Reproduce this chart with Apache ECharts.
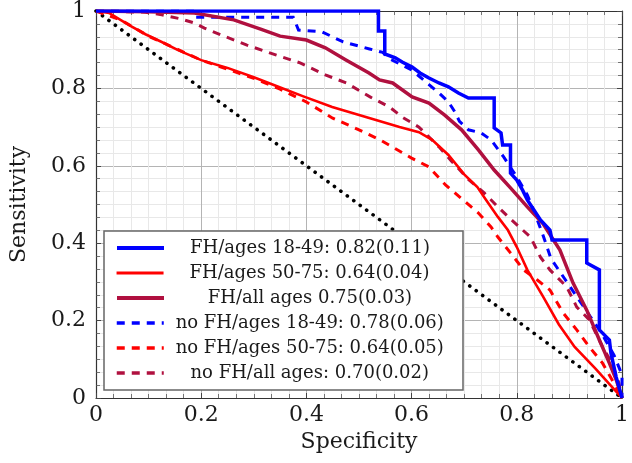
<!DOCTYPE html>
<html>
<head>
<meta charset="utf-8">
<script src="https://cdn.jsdelivr.net/npm/echarts@6/dist/echarts.min.js"></script>
<style>
html,body{margin:0;padding:0;background:#fff;}
#chart{width:632px;height:463px;}
</style>
</head>
<body>
<div id="chart"></div>
<script>
// ---- data (specificity, sensitivity) ----
const xTicks = [0, 0.2, 0.4, 0.6, 0.8, 1];
const yTicks = [0, 0.2, 0.4, 0.6, 0.8, 1];

const seriesNames = [
  'FH/ages 18-49: 0.82(0.11)',
  'FH/ages 50-75: 0.64(0.04)',
  'FH/all ages 0.75(0.03)',
  'no FH/ages 18-49: 0.78(0.06)',
  'no FH/ages 50-75: 0.64(0.05)',
  'no FH/all ages: 0.70(0.02)'
];

const fhYoung = [
  [0,1],[0.537,1],[0.537,0.948],[0.549,0.948],[0.549,0.889],[0.569,0.879],[0.582,0.868],
  [0.601,0.855],[0.616,0.840],[0.633,0.827],[0.652,0.814],[0.670,0.804],[0.689,0.788],
  [0.708,0.775],[0.757,0.775],[0.757,0.698],[0.770,0.685],[0.773,0.654],[0.788,0.654],
  [0.788,0.581],[0.800,0.563],[0.811,0.537],[0.820,0.512],[0.830,0.491],[0.845,0.460],
  [0.863,0.434],[0.867,0.408],[0.933,0.408],[0.933,0.349],[0.957,0.331],[0.957,0.176],
  [0.976,0.150],[0.979,0.116],[0.989,0.054],[1,0]
];

const fhOld = [
  [0,1],[0.025,0.995],[0.062,0.964],[0.094,0.940],[0.125,0.920],[0.156,0.899],[0.200,0.873],
  [0.250,0.853],[0.300,0.829],[0.343,0.806],[0.393,0.780],[0.449,0.752],[0.513,0.726],
  [0.577,0.700],[0.614,0.687],[0.639,0.667],[0.670,0.628],[0.700,0.578],[0.725,0.545],
  [0.740,0.515],[0.764,0.468],[0.783,0.434],[0.800,0.390],[0.820,0.331],[0.850,0.262],
  [0.880,0.190],[0.910,0.132],[0.950,0.075],[0.980,0.030],[1,0]
];

const fhAll = [
  [0,1],[0.100,0.998],[0.187,0.995],[0.262,0.977],[0.313,0.953],[0.350,0.935],[0.400,0.925],
  [0.436,0.905],[0.476,0.873],[0.519,0.840],[0.539,0.822],[0.564,0.814],[0.601,0.778],
  [0.633,0.762],[0.663,0.731],[0.695,0.693],[0.727,0.641],[0.757,0.589],[0.788,0.543],
  [0.820,0.494],[0.850,0.450],[0.882,0.382],[0.907,0.297],[0.933,0.227],[0.957,0.150],
  [0.976,0.090],[0.989,0.047],[1,0]
];

const noFhYoung = [
  [0,1],[0.187,1],[0.190,0.984],[0.375,0.984],[0.385,0.951],[0.430,0.946],[0.470,0.920],
  [0.520,0.902],[0.545,0.893],[0.560,0.875],[0.600,0.848],[0.633,0.810],[0.652,0.788],
  [0.670,0.765],[0.682,0.740],[0.691,0.715],[0.708,0.693],[0.732,0.685],[0.751,0.667],
  [0.775,0.623],[0.800,0.571],[0.820,0.525],[0.835,0.475],[0.850,0.420],[0.865,0.360],
  [0.890,0.310],[0.915,0.260],[0.940,0.210],[0.960,0.170],[0.985,0.110],[1,0.060],[1,0]
];

const noFhOld = [
  [0,1],[0.050,0.975],[0.100,0.935],[0.200,0.873],[0.300,0.826],[0.350,0.798],[0.400,0.765],
  [0.450,0.723],[0.500,0.693],[0.540,0.667],[0.600,0.620],[0.633,0.597],[0.665,0.550],
  [0.695,0.515],[0.727,0.478],[0.751,0.442],[0.764,0.416],[0.788,0.375],[0.813,0.331],
  [0.839,0.305],[0.863,0.279],[0.888,0.220],[0.914,0.176],[0.938,0.132],[0.963,0.090],
  [0.981,0.047],[1,0]
];

const noFhAll = [
  [0,1],[0.094,0.997],[0.125,0.990],[0.160,0.980],[0.187,0.969],[0.206,0.956],[0.238,0.938],
  [0.287,0.912],[0.343,0.886],[0.388,0.866],[0.436,0.835],[0.476,0.814],[0.521,0.778],
  [0.558,0.752],[0.582,0.726],[0.614,0.700],[0.652,0.649],[0.676,0.612],[0.708,0.565],
  [0.738,0.530],[0.764,0.494],[0.790,0.460],[0.826,0.416],[0.845,0.364],[0.863,0.331],
  [0.895,0.287],[0.914,0.235],[0.938,0.202],[0.963,0.132],[0.981,0.090],[0.994,0.039],[1,0]
];

const chance = [[0,1],[1,0]];

// ---- styling ----
const FONT = 'DejaVu Serif';
const BLUE = '#0000ff', RED = '#ff0000', CRIM = '#b0103f';
const dataSets = [fhYoung, fhOld, fhAll, noFhYoung, noFhOld, noFhAll];
const colors = [BLUE, RED, CRIM, BLUE, RED, CRIM];
const widths = [3.5, 2.6, 3.5, 3, 3, 3];
const types = ['solid','solid','solid',[8,7],[8,7],[8,7]];

const series = dataSets.map((d, i) => ({
  name: seriesNames[i],
  type: 'line',
  data: d,
  symbol: 'none',
  showSymbol: false,
  silent: true,
  z: 2 + (5 - i) * 0.1 + (i < 3 ? 1 : 0),
  lineStyle: { color: colors[i], width: widths[i], type: types[i], cap: 'butt', join: 'miter' },
  itemStyle: { color: colors[i] }
}));
series.push({
  name: 'chance', type: 'line', data: chance, symbol: 'none', silent: true, z: 1,
  lineStyle: { color: '#000', width: 3.6, type: [0.1, 7.9], cap: 'round' }
});

const legendCenters = [248, 273, 298, 323, 348, 373];
const legends = seriesNames.map((n, i) => ({
  data: [n],
  left: 115,
  top: legendCenters[i] - 10,
  orient: 'vertical',
  padding: 0,
  itemWidth: 47,
  itemHeight: 14,
  itemGap: 0,
  selectedMode: false,
  z: 20,
  itemStyle: { opacity: 0, borderWidth: 0 },
  lineStyle: { width: widths[i] + 0.5, type: types[i], color: colors[i], cap: 'butt' },
  formatter: name => '{t|' + name + '}',
  textStyle: {
    fontFamily: FONT, fontSize: 18, color: '#1a1a1a', lineHeight: 20,
    rich: { t: { width: 282, align: 'center', fontFamily: FONT, fontSize: 18, color: '#1a1a1a', lineHeight: 20 } }
  }
}));

const axisCommon = {
  type: 'value', min: 0, max: 1, interval: 0.2,
  axisLine: { show: true, onZero: false, lineStyle: { color: '#333', width: 1.2 } },
  axisTick: { show: true, inside: true, length: 5, lineStyle: { color: '#444', width: 1 } },
  minorTick: { show: true, splitNumber: 6, length: 4, lineStyle: { color: '#555', width: 0.8 } }
};

const option = {
  animation: false,
  backgroundColor: '#fff',
  grid: { left: 89, right: 9, top: 11, bottom: 65, containLabel: false },
  legend: legends,
  xAxis: [
    Object.assign({}, axisCommon, {
      position: 'bottom',
      name: 'Specificity', nameLocation: 'middle', nameGap: 32,
      nameTextStyle: { fontFamily: FONT, fontSize: 22, color: '#1a1a1a' },
      axisLabel: { fontFamily: FONT, fontSize: 22, color: '#1a1a1a', margin: 6,
        formatter: v => String(xTicks.find(t => Math.abs(t - v) < 1e-9) ?? v) },
      splitLine: { show: true, lineStyle: { color: '#b4b4b4', width: 1 } },
      minorSplitLine: { show: true, lineStyle: { color: '#e8e8e8', width: 1 } }
    }),
    Object.assign({}, axisCommon, {
      position: 'top', axisLabel: { show: false }, splitLine: { show: false }
    })
  ],
  yAxis: [
    Object.assign({}, axisCommon, {
      position: 'left',
      name: 'Sensitivity', nameLocation: 'middle', nameGap: 66,
      nameTextStyle: { fontFamily: FONT, fontSize: 22, color: '#1a1a1a' },
      axisLabel: { fontFamily: FONT, fontSize: 22, color: '#1a1a1a', margin: 10,
        formatter: v => String(yTicks.find(t => Math.abs(t - v) < 1e-9) ?? v) },
      splitLine: { show: true, lineStyle: { color: '#b4b4b4', width: 1 } },
      minorSplitLine: { show: true, lineStyle: { color: '#e8e8e8', width: 1 } }
    }),
    Object.assign({}, axisCommon, {
      position: 'right', axisLabel: { show: false }, splitLine: { show: false }
    })
  ],
  graphic: [{
    type: 'rect', z: 10, silent: true,
    shape: { x: 104, y: 231, width: 359, height: 159 },
    style: { fill: '#fff', stroke: '#666', lineWidth: 1.5 }
  }],
  series: series
};

const chart = echarts.init(document.getElementById('chart'), null, { renderer: 'canvas' });
chart.setOption(option);
</script>
</body>
</html>
